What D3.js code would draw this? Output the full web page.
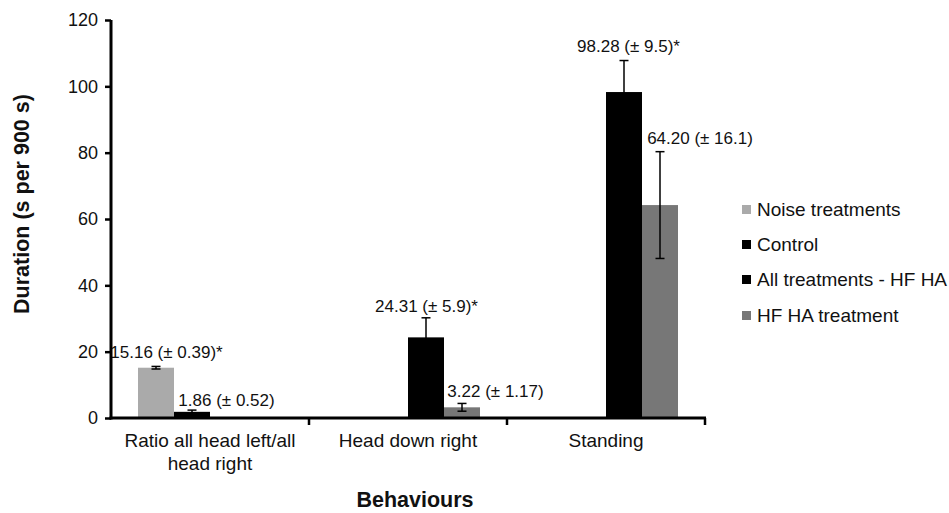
<!DOCTYPE html>
<html><head><meta charset="utf-8">
<script src="https://cdn.jsdelivr.net/npm/d3@7/dist/d3.min.js"></script>
<style>body{margin:0;background:#fff}svg{display:block}text{font-family:"Liberation Sans",Arial,sans-serif}</style>
</head><body><svg id="c" width="949" height="513"></svg>
<script>
const categories = ["Ratio all head left/all head right", "Head down right", "Standing"];
const seriesNames = ["Noise treatments", "Control", "All treatments - HF HA", "HF HA treatment"];
const seriesColors = ["#aaaaaa", "#000000", "#000000", "#777777"];
const noiseValues = [15.16, null, null];
const controlValues = [1.86, null, null];
const allTreatValues = [null, 24.31, 98.28];
const hfhaValues = [null, 3.22, 64.20];
const noiseErr = [0.39, null, null];
const controlErr = [0.52, null, null];
const allTreatErr = [null, 5.9, 9.5];
const hfhaErr = [null, 1.17, 16.1];
const valueLabels = [
  ["15.16 (± 0.39)*", null, null],
  ["1.86 (± 0.52)", null, null],
  [null, "24.31 (± 5.9)*", "98.28 (± 9.5)*"],
  [null, "3.22 (± 1.17)", "64.20 (± 16.1)"]
];
const yTicks = [0, 20, 40, 60, 80, 100, 120];

const values = [noiseValues, controlValues, allTreatValues, hfhaValues];
const errs = [noiseErr, controlErr, allTreatErr, hfhaErr];

(function(){
const svg = d3.select("#c");
const mLeft = 111, mRight = 705, mTop = 20, mBottom = 418;
const y = d3.scaleLinear().domain([0, 120]).range([mBottom, mTop]);
const x0 = d3.scaleBand().domain(categories).range([mLeft, mRight]).paddingInner(0).paddingOuter(0);
const bw = x0.bandwidth();
const barW = bw / 5.5;
const x1 = d3.scaleBand().domain(seriesNames).range([barW * 0.75, barW * 4.75]).padding(0);

// bars
seriesNames.forEach((s, si) => {
  categories.forEach((c, ci) => {
    const v = values[si][ci];
    if (v == null) return;
    const bx = x0(c) + x1(s);
    svg.append("rect").attr("x", bx).attr("y", y(v)).attr("width", x1.bandwidth())
      .attr("height", y(0) - y(v)).attr("fill", seriesColors[si]);
    const e = errs[si][ci];
    const cx = bx + x1.bandwidth() / 2;
    const col = "#000";
    svg.append("line").attr("x1", cx).attr("x2", cx).attr("y1", y(v - e)).attr("y2", y(v + e))
      .attr("stroke", col).attr("stroke-width", 1.5);
    [v - e, v + e].forEach(t => svg.append("line").attr("x1", cx - 4.5).attr("x2", cx + 4.5)
      .attr("y1", y(t)).attr("y2", y(t)).attr("stroke", col).attr("stroke-width", 1.5));
  });
});

// value labels (placement offsets)
const labelDx = [[10.5, 0, 0], [34.5, 0, 0], [0, 0.5, 4.5], [0, 33.5, 40]];
const labelDy = [[-8, 0, 0], [-4, 0, 0], [0, -6, -8.5], [0, -6, -8]];
seriesNames.forEach((s, si) => {
  categories.forEach((c, ci) => {
    const lab = valueLabels[si][ci];
    if (!lab) return;
    const v = values[si][ci], e = errs[si][ci];
    const cx = x0(c) + x1(s) + x1.bandwidth() / 2 + labelDx[si][ci];
    svg.append("text").attr("x", cx).attr("y", y(v + e) + labelDy[si][ci]).attr("text-anchor", "middle")
      .attr("font-size", 17).attr("fill", "#111").text(lab);
  });
});

// y axis
const yAxis = svg.append("g").attr("transform", `translate(${mLeft},0)`)
  .call(d3.axisLeft(y).tickValues(yTicks).tickSize(6).tickPadding(7));
yAxis.select(".domain").attr("stroke", "#000").attr("stroke-width", 3).attr("d", `M-0,${mTop}V${mBottom + 1.5}`);
yAxis.selectAll(".tick line").attr("stroke", "#000").attr("stroke-width", 2.5);
yAxis.selectAll(".tick text").attr("font-size", 18).attr("fill", "#111").style("font-family", "Liberation Sans, Arial, sans-serif");

// x axis
const xAxisG = svg.append("g").attr("transform", `translate(0,${mBottom})`);
xAxisG.append("line").attr("x1", mLeft - 1.5).attr("x2", mRight + 1).attr("y1", 0).attr("y2", 0)
  .attr("stroke", "#000").attr("stroke-width", 3);
const bounds = [x0(categories[1]), x0(categories[2]), mRight];
bounds.forEach(bx => xAxisG.append("line").attr("x1", bx).attr("x2", bx).attr("y1", 0).attr("y2", 7)
  .attr("stroke", "#000").attr("stroke-width", 2.5));
const catLines = [["Ratio all head left/all", "head right"], ["Head down right"], ["Standing"]];
categories.forEach((c, i) => {
  const t = xAxisG.append("text").attr("x", x0(c) + bw / 2).attr("y", 29).attr("text-anchor", "middle")
    .attr("font-size", 19).attr("fill", "#111");
  catLines[i].forEach((l, j) => t.append("tspan").attr("x", x0(c) + bw / 2).attr("dy", j ? 23 : 0).text(l));
});

// axis titles
svg.append("text").attr("transform", "translate(29,204) rotate(-90)").attr("text-anchor", "middle")
  .attr("font-size", 21.5).attr("font-weight", "bold").attr("fill", "#111").text("Duration (s per 900 s)");
svg.append("text").attr("x", 415).attr("y", 507).attr("text-anchor", "middle")
  .attr("font-size", 21.5).attr("font-weight", "bold").attr("fill", "#111").text("Behaviours");

// legend
const leg = svg.append("g").attr("transform", "translate(742,0)");
const legY = [216, 251, 286, 322];
seriesNames.forEach((s, i) => {
  leg.append("rect").attr("x", 0).attr("y", legY[i] - 11).attr("width", 9).attr("height", 9).attr("fill", seriesColors[i]);
  leg.append("text").attr("x", 15).attr("y", legY[i]).attr("font-size", 19).attr("fill", "#111").text(s);
});
})();
</script></body></html>
